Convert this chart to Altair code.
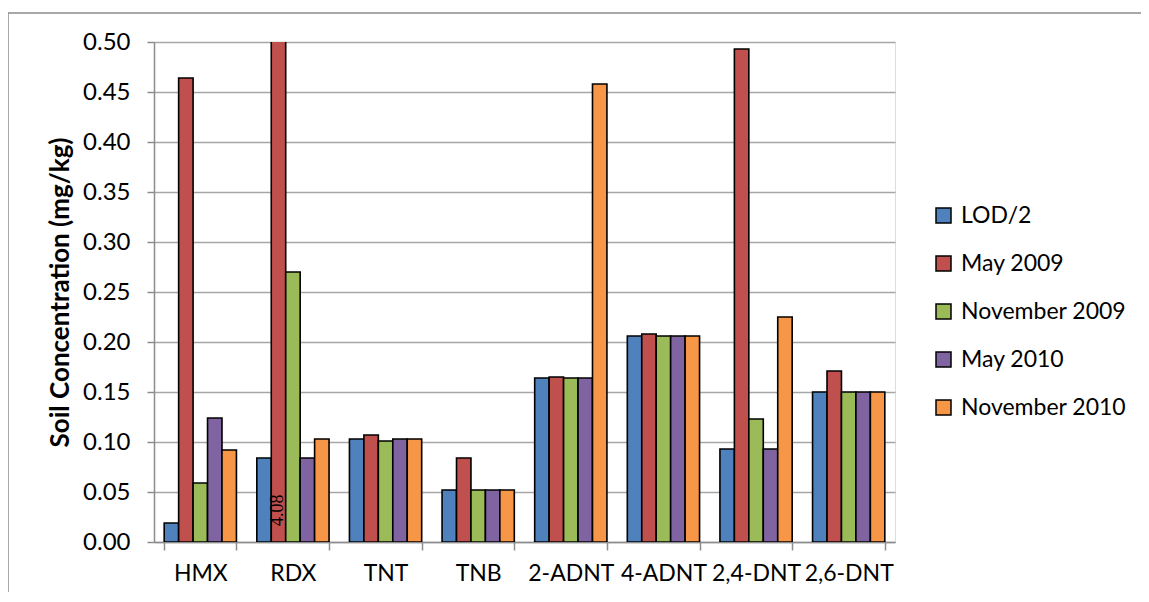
import altair as alt
import pandas as pd

compounds = ["HMX", "RDX", "TNT", "TNB", "2-ADNT", "4-ADNT", "2,4-DNT", "2,6-DNT"]
series_names = ["LOD/2", "May 2009", "November 2009", "May 2010", "November 2010"]
lod_half = [0.019, 0.084, 0.103, 0.052, 0.164, 0.206, 0.093, 0.150]
may_2009 = [0.464, 4.08, 0.107, 0.084, 0.165, 0.208, 0.493, 0.171]
nov_2009 = [0.059, 0.270, 0.101, 0.052, 0.164, 0.206, 0.123, 0.150]
may_2010 = [0.124, 0.084, 0.103, 0.052, 0.164, 0.206, 0.093, 0.150]
nov_2010 = [0.092, 0.103, 0.103, 0.052, 0.458, 0.206, 0.225, 0.150]
colors = ["#4F81BD", "#C0504D", "#9BBB59", "#8064A2", "#F79646"]
y_ticks = [0.0, 0.05, 0.10, 0.15, 0.20, 0.25, 0.30, 0.35, 0.40, 0.45, 0.50]

rows = []
for s, vals in zip(series_names, [lod_half, may_2009, nov_2009, may_2010, nov_2010]):
    for c, v in zip(compounds, vals):
        rows.append({"compound": c, "series": s, "value": v})
df = pd.DataFrame(rows)

label_df = pd.DataFrame({"compound": ["RDX"], "series": ["May 2009"], "value": [0.0], "label": ["4.08"]})
border_df = pd.DataFrame({"a": [0]})

FONT = "Lato"

x_enc = alt.X("compound:N", sort=compounds,
              scale=alt.Scale(domain=compounds, paddingInner=0.22, paddingOuter=0.11),
              axis=alt.Axis(title=None, labelAngle=0, tickBand="extent", tickSize=8,
                            labelPadding=12, labelFontSize=23, labelFont=FONT,
                            labelColor="black", domainColor="#8c8c8c", tickColor="#8c8c8c",
                            domainWidth=1.5, tickWidth=1.5, grid=False))
xo_enc = alt.XOffset("series:N", sort=series_names,
                     scale=alt.Scale(domain=series_names, paddingInner=0, paddingOuter=0))
y_enc = alt.Y("value:Q",
              scale=alt.Scale(domain=[0, 0.5], nice=False, zero=True),
              axis=alt.Axis(title="Soil Concentration (mg/kg)", values=y_ticks, format=".2f",
                            labelFontSize=24, labelFont=FONT, labelColor="black",
                            tickSize=7, labelPadding=17, tickColor="#8c8c8c", tickWidth=1.5,
                            domainColor="#8c8c8c", domainWidth=1.5,
                            gridColor="#a6a6a6", gridWidth=1.5,
                            titleFont=FONT, titleFontSize=26, titleFontWeight="bold",
                            titleColor="black", titlePadding=9))

bars = alt.Chart(df).mark_bar(clip=True, stroke="black", strokeWidth=1.6).encode(
    x=x_enc,
    xOffset=xo_enc,
    y=y_enc,
    color=alt.Color("series:N", sort=series_names,
                    scale=alt.Scale(domain=series_names, range=colors),
                    legend=alt.Legend(title=None, orient="none", legendX=778, legendY=162,
                                      symbolType="square", symbolSize=225,
                                      symbolStrokeColor="black", symbolStrokeWidth=1.5,
                                      labelFont=FONT, labelFontSize=23, labelColor="black",
                                      labelOffset=6, labelLimit=400, rowPadding=24, padding=0)),
)

label = alt.Chart(label_df).mark_text(angle=270, align="left", baseline="middle", dx=16,
                                      font="Liberation Sans Narrow", fontSize=18,
                                      color="black").encode(
    x=alt.X("compound:N", sort=compounds),
    xOffset=alt.XOffset("series:N", sort=series_names),
    y=alt.Y("value:Q"),
    text="label:N",
)

border = alt.Chart(border_df).mark_rect(fillOpacity=0, stroke="#8c8c8c", strokeWidth=1.5,
                                         clip=False).encode(
    x=alt.value(-146), x2=alt.value(1400), y=alt.value(-29), y2=alt.value(900)
)

chart = alt.layer(border, bars, label).properties(
    width=741, height=500,
    autosize=alt.AutoSizeParams(type="none"),
    padding={"left": 146, "top": 34, "right": 246, "bottom": 50},
).configure_view(stroke=None).configure(background="white")

chart.save("out.html", embed_options={"renderer": "svg", "actions": False})
